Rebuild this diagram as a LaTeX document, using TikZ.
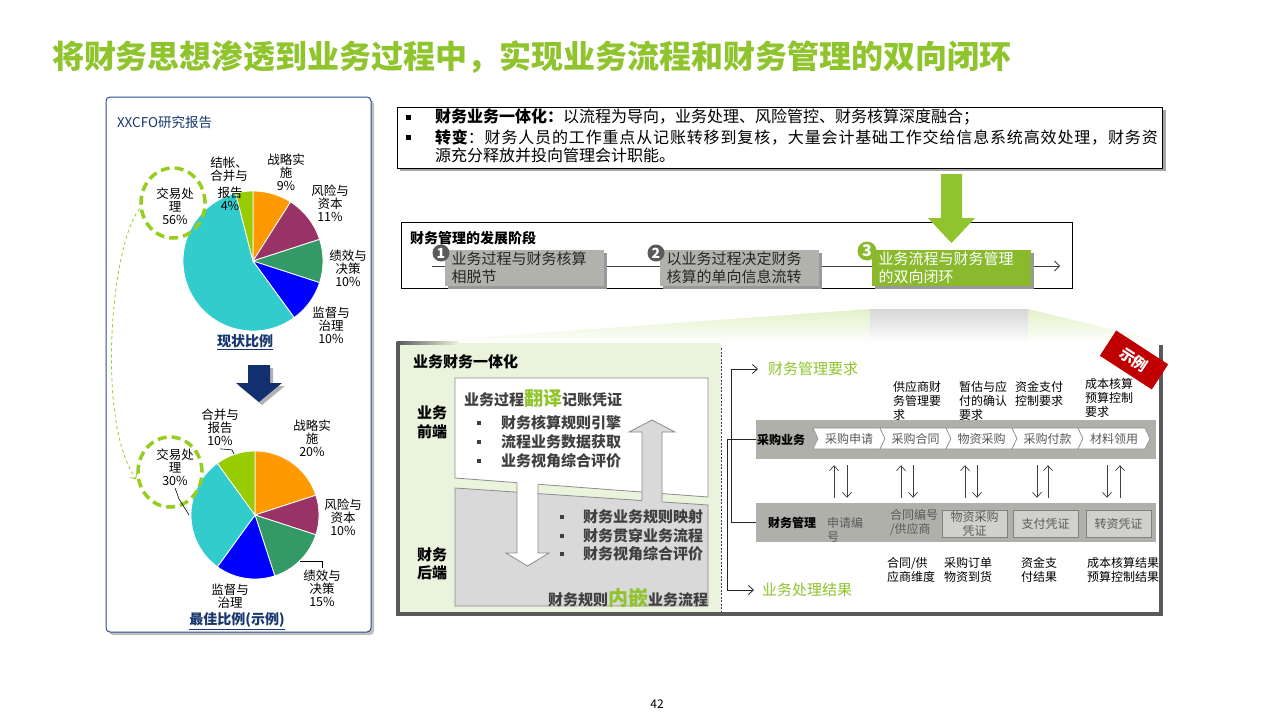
\documentclass[tikz,border=0pt]{standalone}
\usepackage{fontspec}
\setmainfont{Noto Sans CJK SC}
\usetikzlibrary{arrows.meta,calc,shapes.geometric}
\definecolor{tgreen}{RGB}{143,196,45}
\definecolor{sgreen}{RGB}{138,185,45}
\definecolor{navy}{RGB}{18,48,112}
\definecolor{pblue}{RGB}{45,75,145}
\definecolor{lblue}{RGB}{23,55,110}
\definecolor{porange}{RGB}{255,153,0}
\definecolor{pmaroon}{RGB}{153,51,102}
\definecolor{pgreen}{RGB}{51,153,102}
\definecolor{pblu}{RGB}{0,0,255}
\definecolor{pcyan}{RGB}{51,204,204}
\definecolor{pyg}{RGB}{153,204,0}
\definecolor{dashg}{RGB}{150,205,30}
\definecolor{stagegray}{RGB}{178,178,172}
\definecolor{bargray}{RGB}{176,176,170}
\definecolor{boxgray}{RGB}{208,208,204}
\definecolor{framegray}{RGB}{89,89,89}
\definecolor{lgreenbg}{RGB}{234,243,220}
\definecolor{cgreen}{RGB}{226,241,200}
\definecolor{badgered}{RGB}{192,0,0}
\definecolor{txtgray}{RGB}{89,89,89}
\definecolor{dgray}{RGB}{64,64,64}
\definecolor{numgray}{RGB}{90,90,90}
\newcommand\fsz[1]{\fontsize{#1}{#1}\selectfont}
\newcommand\lsp{\addfontfeature{LetterSpace=5.3}}
\newcommand\pieslice[5]{\fill[#5, draw=white, line width=0.8] (#1) -- ++({-(#3)}:#2) arc[start angle={-(#3)}, end angle={-(#4)}, radius=#2] -- cycle;}
\tikzset{
  txt/.style={inner sep=0pt, outer sep=0pt},
  pielbl/.style={txt, align=center, font=\fontsize{12.5}{13}\selectfont},
  dcirc/.style={ellipse, draw=dashg, line width=3.5pt, dash pattern=on 9pt off 5pt, minimum width=64pt, minimum height=70pt, inner sep=0pt},
  stagebox/.style={fill=stagegray, minimum width=159pt, minimum height=36pt, text width=146pt, align=left, inner sep=0pt, font=\fontsize{15}{18}\selectfont, text={black!85}},
  numc/.style={circle, fill=numgray, text=white, font=\fsz{14}\bfseries, inner sep=0pt, minimum size=17pt},
  bul/.style={fill=dgray},
  wtxt/.style={txt, anchor=west, font=\fsz{15}\bfseries, text=dgray},
  barbox/.style={fill=bargray, minimum width=400pt, inner sep=0pt},
  vbox/.style={draw=black!50, fill=boxgray, line width=0.6pt, minimum width=65pt, minimum height=27pt, inner sep=0pt, align=center, font=\fontsize{12}{14}\selectfont, text=txtgray},
  small/.style={txt, anchor=west, align=left, font=\fontsize{12}{14}\selectfont},
  varr/.style={dgray, line width=0.7pt, -{Straight Barb[length=5pt,width=9pt]}},
  larr/.style={black!85, line width=0.8pt, -{Straight Barb[length=5pt,width=9pt]}}
}
\begin{document}
\begin{tikzpicture}[x=1pt,y=-1pt]
\useasboundingbox (0,0) rectangle (1280,720);
\fill[white] (0,0) rectangle (1280,720);

% title
\node[txt, anchor=west, font=\fsz{32}\bfseries, text=tgreen] (title) at (52,57) {将财务思想渗透到业务过程中，实现业务流程和财务管理的双向闭环};

% ---------- left panel ----------
\fill[black!25, rounded corners=4] (109,100) rectangle (374,635);
\draw[pblue, line width=1pt, fill=white, rounded corners=4] (106,97) rectangle (371,632);
\node[txt, anchor=west, font=\fsz{13.5}, text=lblue] (rpt) at (117,122) {XXCFO研究报告};

% top pie
\coordinate (p1) at (253,261);
\pieslice{p1}{70}{90}{57.6}{porange}
\pieslice{p1}{70}{57.6}{18}{pmaroon}
\pieslice{p1}{70}{18}{-18}{pgreen}
\pieslice{p1}{70}{-18}{-54}{pblu}
\pieslice{p1}{70}{-54}{-255.6}{pcyan}
\pieslice{p1}{70}{-255.6}{-270}{pyg}
\node[pielbl] (tjz) at (229,169) {结帐、\\合并与};
\node[pielbl] (tbg) at (230,199) {报告\\4\%};
\node[pielbl] (tzl) at (286,172.5) {战略实\\施\\9\%};
\node[pielbl] (tfx) at (330,203.5) {风险与\\资本\\11\%};
\node[pielbl] (tjx) at (348,268) {绩效与\\决策\\10\%};
\node[pielbl] (tjd) at (331,325.5) {监督与\\治理\\10\%};
\node[dcirc] (c1) at (173,203) {};
\node[pielbl] (tjy) at (175,206) {交易处\\理\\56\%};
\node[txt, font=\fsz{14}\bfseries, text=lblue] (cur) at (245,341) {现状比例};
\draw[lblue, line width=0.8pt] ($(cur.south west)+(0,2)$) -- ($(cur.south east)+(0,2)$);

% navy arrow
\fill[black!30] (251,368) -- (273,368) -- (273,386) -- (285,386) -- (262,405) -- (239,386) -- (251,386) -- cycle;
\fill[navy] (248,365) -- (270,365) -- (270,383) -- (282,383) -- (259,402) -- (236,383) -- (248,383) -- cycle;

% bottom pie
\coordinate (p2) at (255,515);
\pieslice{p2}{64}{90}{18}{porange}
\pieslice{p2}{64}{18}{-18}{pmaroon}
\pieslice{p2}{64}{-18}{-72}{pgreen}
\pieslice{p2}{64}{-72}{-126}{pblu}
\pieslice{p2}{64}{-126}{-234}{pcyan}
\pieslice{p2}{64}{-234}{-270}{pyg}
\node[pielbl] (bhb) at (220,427.5) {合并与\\报告\\10\%};
\node[pielbl] (bzl) at (312,438.5) {战略实\\施\\20\%};
\node[pielbl] (bfx) at (343,517.5) {风险与\\资本\\10\%};
\node[pielbl] (bjx) at (322,588) {绩效与\\决策\\15\%};
\node[pielbl] (bjd) at (230,596) {监督与\\治理};
\node[dcirc] (c2) at (170,472) {};
\node[pielbl] (bjy) at (175,467.5) {交易处\\理\\30\%};
\draw[black, line width=0.6pt] (bhb.south) ++(0,3) -- ++(12,1) -- ++(2,4);
\draw[black, line width=0.6pt] (bjx.north) ++(0,-2) -- ++(0,-6) -- ++(-22,0);
\draw[black, line width=0.6pt] (bjy.south) ++(0,2) -- ++(4,11) -- ++(10,16);
\node[txt, font=\fsz{14}\bfseries, text=lblue] (best) at (237,620) {最佳比例(示例)};
\draw[lblue, line width=0.8pt] ($(best.south west)+(0,2)$) -- ($(best.south east)+(0,2)$);

% dashed connector between circles
\draw[dashg, line width=0.8pt, dashed, -{Straight Barb[length=4pt,width=8pt]}, shorten >=2pt] (c1.190) .. controls (112,240) and (95,420) .. (c2.195);

% ---------- top text box ----------
\fill[black!35] (400,110) rectangle (1166,171);
\draw[black, line width=1pt, fill=white] (397,107) rectangle (1162,168);
\fill[black] (405.5,114.5) rectangle (410.5,119.5);
\fill[black] (405.5,134.5) rectangle (410.5,139.5);
\node[txt, anchor=west, font=\fsz{16}] (l1) at (435,117) {\textbf{财务业务一体化：}以流程为导向，业务处理、风险管控、财务核算深度融合；};
\node[txt, anchor=west, font=\fsz{16}] (l2) at (435,137) {{\bfseries\lsp 转变}{\lsp ：财务人员的工作重点从记账转移到复核，大量会计基础工作交给信息系统高效处理，财务资}};
\node[txt, anchor=west, font=\fsz{16}] (l3) at (435,155) {源充分释放并投向管理会计职能。};

% ---------- stage box ----------
\draw[black, line width=0.8pt] (401,222) rectangle (1072,288);
\node[txt, anchor=west, font=\fsz{14}\bfseries] (stt) at (410,238) {财务管理的发展阶段};
\coordinate (tl0) at (432,266);
\coordinate (tl1) at (1060,266);
\draw[dgray, line width=0.8pt, -{Straight Barb[length=5pt,width=10pt]}] (tl0) -- (tl1);
\fill[black!40] (448,253) rectangle (607,289);
\fill[black!40] (663,253) rectangle (822,289);
\fill[black!40] (875,253) rectangle (1034,289);
\node[stagebox] (s1) at (524.5,268) {业务过程与财务核算\\相脱节};
\node[stagebox] (s2) at (739.5,268) {以业务过程决定财务\\核算的单向信息流转};
\node[stagebox, fill=sgreen, text=white] (s3) at (951.5,268) {业务流程与财务管理\\的双向闭环};
\node[numc] (n1) at (441,253) {1};
\node[numc] (n2) at (656,253) {2};
\node[numc, fill=sgreen, minimum size=19pt, font=\fsz{16}\bfseries] (n3) at (867,251) {3};
% green arrow
\fill[tgreen] (941,174) -- (962,174) -- (962,218) -- (975,218) -- (951.5,243) -- (928,218) -- (941,218) -- cycle;

% ---------- zoom callout ----------
\shade[top color=cgreen, bottom color=white] (400,343) -- (870,309) -- (1028,309) -- (1168,343) -- cycle;
\shade[top color=black!16, bottom color=white] (870,309) rectangle (1028,343);

% ---------- lower box ----------
\fill[lgreenbg] (398,343) rectangle (721,614);
\fill[white] (721,345) rectangle (1161,614);
\shade[left color=framegray, right color=lgreenbg] (396.5,341) rectangle (458,344.5);
\draw[framegray, line width=3.5pt] (398,342) -- (398,614) -- (1161,614) -- (1161,345);
\draw[dgray, line width=0.8pt, dash pattern=on 2pt off 1.5pt] (721,348) -- (721,611);

\node[txt, anchor=west, font=\fsz{15}\bfseries] (bf) at (413,362) {业务财务一体化};
\node[txt, align=left, font=\fontsize{15}{18.5}\selectfont\bfseries] (fe) at (432,422.5) {业务\\前端};
\node[txt, align=left, font=\fontsize{15}{18.5}\selectfont\bfseries] (be) at (432,564) {财务\\后端};

% back-end gray box and front-end white box
\draw[black!45, fill=black!15, line width=0.8pt] (455,488) -- (708,505) -- (708,606) -- (455,606) -- cycle;
\draw[black!45, fill=white, line width=0.8pt] (455,378) -- (708,378) -- (708,497) -- (455,478) -- cycle;
% down arrow
\fill[white] (517,475) -- (538,475) -- (538,553) -- (549,553) -- (527.5,566) -- (506,553) -- (517,553) -- cycle;
\draw[black!45, line width=0.8pt] (517,482.7) -- (517,553) -- (506,553) -- (527.5,566) -- (549,553) -- (538,553) -- (538,484.2);
% up arrow
\fill[black!15] (642,506) -- (642,432) -- (629,432) -- (652,420) -- (675,432) -- (662,432) -- (662,506) -- cycle;
\draw[black!45, line width=0.8pt] (642,500.6) -- (642,432) -- (629,432) -- (652,420) -- (675,432) -- (662,432) -- (662,501.9);

\node[wtxt] (wt) at (464,398) {业务过程{\fsz{19}\color{tgreen}翻译}记账凭证};
\fill[bul] (477,421) rectangle (481,425);
\fill[bul] (477,440) rectangle (481,444);
\fill[bul] (477,459) rectangle (481,463);
\node[wtxt] (w1) at (501,423) {财务核算规则引擎};
\node[wtxt] (w2) at (501,442) {流程业务数据获取};
\node[wtxt] (w3) at (501,461) {业务视角综合评价};
\fill[bul] (560,515) rectangle (564,519);
\fill[bul] (560,534) rectangle (564,538);
\fill[bul] (560,552) rectangle (564,556);
\node[wtxt] (g1) at (583,517) {财务业务规则映射};
\node[wtxt] (g2) at (583,536) {财务贯穿业务流程};
\node[wtxt] (g3) at (583,554) {财务视角综合评价};
\node[wtxt] (gt) at (548,598) {财务规则{\fsz{20}\color{tgreen}内嵌}业务流程};

% right part
\node[txt, anchor=west, font=\fsz{15}, text=tgreen] (req) at (768,369) {财务管理要求};
\node[txt, anchor=west, font=\fsz{15}, text=tgreen] (res) at (762,590) {业务处理结果};

\node[barbox, minimum height=39pt] (bar1) at (956,439.5) {};
\node[barbox, minimum height=39pt] (bar2) at (956,522.5) {};
\node[txt, anchor=west, font=\fsz{12}\bfseries] (cg) at (757,440) {采购业务};
\node[txt, anchor=west, font=\fsz{12}\bfseries] (cw) at (768,523) {财务管理};

\foreach \a/\b/\t/\n in {813/880/采购申请/ch1, 880/946/采购合同/ch2, 946/1012/物资采购/ch3, 1012/1078/采购付款/ch4, 1078/1145/材料领用/ch5}{
  \draw[black!45, fill=white, line width=0.6pt] (\a,428) -- (\b,428) -- (\b+5,438.5) -- (\b,449) -- (\a,449) -- (\a+5,438.5) -- cycle;
  \node[txt, font=\fsz{12}, text=txtgray] (\n) at ({(\a+\b)/2+2.5},438.5) {\t};
}

\node[small] (q1) at (893,401) {供应商财\\务管理要\\求};
\node[small] (q2) at (959,401) {暂估与应\\付的确认\\要求};
\node[small] (q3) at (1015,394) {资金支付\\控制要求};
\node[small] (q4) at (1085,398) {成本核算\\预算控制\\要求};

\node[small, text=txtgray] (f1) at (827,529.5) {申请编\\号};
\node[small, text=txtgray] (f2) at (890,522.5) {合同编号\\/供应商};
\node[vbox] (v1) at (974.5,523.5) {物资采购\\凭证};
\node[vbox] (v2) at (1045.5,523.5) {支付凭证};
\node[vbox] (v3) at (1118.5,523.5) {转资凭证};

\node[small] (r1) at (887,569.5) {合同/供\\应商维度};
\node[small] (r2) at (944,569.5) {采购订单\\物资到货};
\node[small] (r3) at (1021,569.5) {资金支\\付结果};
\node[small] (r4) at (1087,569.5) {成本核算结果\\预算控制结果};

% up / down arrows between bars
\draw[varr, shorten <=5pt, shorten >=6pt] ([xshift=-122pt]bar2.north) -- ([xshift=-122pt]bar1.south);
\draw[varr, shorten <=6pt, shorten >=5pt] ([xshift=-109pt]bar1.south) -- ([xshift=-109pt]bar2.north);
\draw[varr, shorten <=5pt, shorten >=6pt] ([xshift=-55pt]bar2.north) -- ([xshift=-55pt]bar1.south);
\draw[varr, shorten <=6pt, shorten >=5pt] ([xshift=-43pt]bar1.south) -- ([xshift=-43pt]bar2.north);
\draw[varr, shorten <=5pt, shorten >=6pt] ([xshift=9pt]bar2.north) -- ([xshift=9pt]bar1.south);
\draw[varr, shorten <=6pt, shorten >=5pt] ([xshift=21pt]bar1.south) -- ([xshift=21pt]bar2.north);
\draw[varr, shorten <=6pt, shorten >=5pt] ([xshift=81pt]bar1.south) -- ([xshift=81pt]bar2.north);
\draw[varr, shorten <=5pt, shorten >=6pt] ([xshift=92pt]bar2.north) -- ([xshift=92pt]bar1.south);
\draw[varr, shorten <=6pt, shorten >=5pt] ([xshift=151pt]bar1.south) -- ([xshift=151pt]bar2.north);
\draw[varr, shorten <=5pt, shorten >=6pt] ([xshift=164pt]bar2.north) -- ([xshift=164pt]bar1.south);

% side connectors
\draw[larr, shorten >=10pt] (bar2.west) -- ++(-24,0) |- (req.west);
\draw[larr, shorten >=8pt] (bar1.west) -- ++(-28,0) |- (res.west);

% badge
\node[fill=badgered, rotate=-33, minimum width=62pt, minimum height=30pt, text=white, font=\fsz{15}\bfseries, inner sep=0pt] (badge) at (1134,360) {示例};

% page number
\node[txt, font=\fsz{12}] (pg) at (657,704) {42};
\end{tikzpicture}
\end{document}
